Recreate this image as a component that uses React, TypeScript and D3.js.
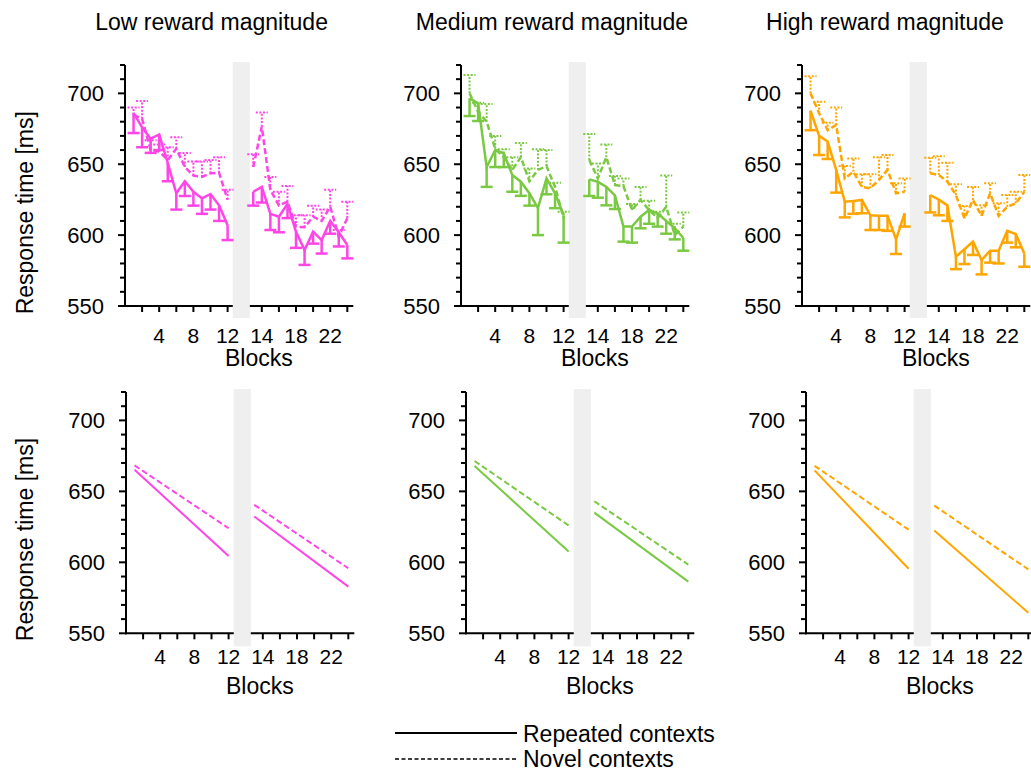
import React from "react";
import * as d3 from "d3";

const FONT = "'Liberation Sans', Arial, Helvetica, sans-serif";

// blocks 1..24, a break sits between 12 and 13
const blocks = [1, 2, 3, 4, 5, 6, 7, 8, 9, 10, 11, 12, 13, 14, 15, 16, 17, 18, 19, 20, 21, 22, 23, 24];
const tickBlocks = [2, 4, 6, 8, 10, 12, 14, 16, 18, 20, 22, 24];
const labelBlocks = [4, 8, 12, 14, 18, 22];
const yTicks = [550, 560, 570, 580, 590, 600, 610, 620, 630, 640, 650, 660, 670, 680, 690, 700, 710, 720];
const yLabels = [550, 600, 650, 700];
const titles = ["Low reward magnitude", "Medium reward magnitude", "High reward magnitude"];
const colors = ["#ff45e6", "#7ac943", "#ffa500"];

// top row: block means and standard errors (ms)
const lowRep = [686, 676, 668, 671, 651, 629.5, 638, 630.6, 626, 629, 621, 607, 630.6, 634, 615, 613, 622, 602.4, 589.5, 602.4, 596.5, 610, 602, 593];
const lowRepSE = [14, 14, 10, 11, 13, 11.5, 10.4, 9.8, 11, 11, 11, 10.5, 9.8, 11, 11.4, 11, 10, 11.4, 10.5, 8.4, 9.5, 9, 10, 9.4];
const lowNov = [685, 682, 660, 659, 653, 661, 648, 642, 641, 643.6, 644, 625, 648, 676.5, 632, 621, 623.6, 606, 605.5, 613, 610, 620, 599, 612];
const lowNovSE = [5, 12.6, 7, 5, 9, 8, 10, 10, 11, 9.4, 11, 7, 9, 10, 9, 9.6, 11, 8, 8.5, 7.8, 8, 12, 4.6, 11.6];

const medRep = [696.5, 693, 648, 660, 657.7, 642.4, 637.7, 629.5, 619, 640, 629.5, 614, 639.3, 637.7, 634, 628, 606, 606, 613, 617.7, 615.4, 610, 605, 598];
const medRepSE = [12.5, 12.5, 14, 12, 9.7, 11.8, 10, 8.7, 19, 11.2, 10.5, 19.3, 11.7, 11.3, 13, 9.6, 10.6, 11.3, 8.2, 9.7, 9.4, 9, 8, 9];
const medNov = [700, 687, 680, 661, 655, 646, 655, 638, 646, 648.7, 634, 612, 653, 640, 655, 635.3, 634.6, 617.7, 624.8, 617.7, 612, 620, 600, 606];
const medNovSE = [13, 6.4, 12.5, 9, 5.5, 9, 10, 9, 14.5, 11.3, 3, 4.5, 18.3, 10.6, 9, 6.4, 5.4, 4.3, 9.2, 6.6, 4.5, 22, 8, 10];

const highRep = [687.8, 670, 666, 646, 623.6, 624, 624.8, 614, 613.7, 613.7, 597, 615.4, 628.3, 625, 621, 584.8, 590, 595.4, 582.4, 589, 589, 603, 600.8, 587];
const highRepSE = [13.8, 13.5, 12.3, 16, 11.1, 9, 9.4, 10.4, 10.1, 10.7, 10.3, 9.4, 12.3, 11, 11, 8.8, 10.4, 9.4, 10.1, 8.4, 9, 8.3, 9.4, 9.3];
const highNov = [700, 686, 674, 677.7, 640, 644.7, 634, 633, 639, 646, 629.5, 630.6, 643.6, 642.4, 637.7, 628.3, 611.8, 624.8, 613.5, 629.5, 613.5, 620, 622.4, 630.6];
const highNovSE = [12, 8, 5.3, 12.3, 8.7, 9.3, 9, 10, 16, 10.5, 7, 9.4, 11, 13.3, 13.3, 7.5, 8.7, 9.2, 7.5, 7, 8.9, 8.3, 8.2, 11.8];

// bottom row: fitted lines, values at blocks 1, 12, 13, 24
const fitBlocks = [1, 12, 13, 24];
const lowRepFit = [665.2, 604.5, 632.3, 582.9];
const lowNovFit = [668.3, 624, 640.5, 595.8];
const medRepFit = [667.9, 607.6, 635, 586.4];
const medNovFit = [671.4, 626, 643, 598.4];
const highRepFit = [664.8, 595.5, 622.4, 564.5];
const highNovFit = [668, 623, 640, 595];

const topData = [
  { rep: lowRep, repSE: lowRepSE, nov: lowNov, novSE: lowNovSE },
  { rep: medRep, repSE: medRepSE, nov: medNov, novSE: medNovSE },
  { rep: highRep, repSE: highRepSE, nov: highNov, novSE: highNovSE },
];
const bottomData = [
  { rep: lowRepFit, nov: lowNovFit },
  { rep: medRepFit, nov: medNovFit },
  { rep: highRepFit, nov: highNovFit },
];

// block -> slot, leaving room for the break
const slot = (b: number) => (b <= 12 ? b : b + 2);

const Axes = ({ x, y, y0, y1, tickDy }: any) => {
  const [xa, xb] = x.range();
  return (
    <g>
      <line x1={xa} x2={xa} y1={y1} y2={y0 + 1} stroke="#000" strokeWidth={2} />
      <line x1={xa - 1} x2={xb} y1={y0} y2={y0} stroke="#000" strokeWidth={2} />
      {yTicks.map((t) => (
        <line key={t} x1={xa} x2={xa - (yLabels.includes(t) ? 7 : 5)} y1={y(t)} y2={y(t)} stroke="#000" strokeWidth={2} />
      ))}
      {yLabels.map((t) => (
        <text key={t} x={xa - 21} y={y(t)} dy="0.36em" textAnchor="end" fontSize={22} fontFamily={FONT}>
          {t}
        </text>
      ))}
      {tickBlocks.map((b) => (
        <line key={b} x1={x(slot(b))} x2={x(slot(b))} y1={y0} y2={y0 + 6} stroke="#000" strokeWidth={2} />
      ))}
      {labelBlocks.map((b) => (
        <text key={b} x={x(slot(b))} y={y0 + tickDy} dy="0.36em" textAnchor="middle" fontSize={21} fontFamily={FONT}>
          {b}
        </text>
      ))}
      <text x={x(15.65)} y={y0 + 52} dy="0.36em" textAnchor="middle" fontSize={23} fontFamily={FONT}>
        Blocks
      </text>
    </g>
  );
};

// two path strings, one per side of the break
const splitPaths = (x: any, y: any, bl: number[], vals: number[], cut: number) => {
  const mk = (bs: number[]) =>
    d3
      .line<number>()
      .x((_, i) => x(slot(bs[i])))
      .y((v) => y(v));
  return [
    mk(bl.slice(0, cut))(vals.slice(0, cut)) as string,
    mk(bl.slice(cut))(vals.slice(cut)) as string,
  ];
};

const TopPanel = ({ x0, color, d }: any) => {
  const y0 = 306;
  const y1 = 65;
  const x = d3.scaleLinear().domain([0, 26.7]).range([x0, x0 + 228.3]);
  const y = d3.scaleLinear().domain([550, 720]).range([y0, y1]);
  const repPaths = splitPaths(x, y, blocks, d.rep, 12);
  const novPaths = splitPaths(x, y, blocks, d.nov, 12);
  const cap = 6;
  return (
    <g>
      <Axes x={x} y={y} y0={y0} y1={y1} tickDy={29} />
      <rect x={x(12.6)} y={y1 - 3} width={x(14.6) - x(12.6)} height={y0 + 12 - (y1 - 3)} fill="#efefef" />
      {/* novel: dotted whiskers upwards */}
      {blocks.map((b, i) => {
        const cx = x(slot(b));
        const top = y(d.nov[i] + d.novSE[i]);
        return (
          <g key={"n" + b} stroke={color} strokeWidth={2} strokeDasharray="2,1.6" fill="none">
            <line x1={cx} x2={cx} y1={y(d.nov[i])} y2={top} />
            <line x1={cx - cap} x2={cx + cap} y1={top} y2={top} />
          </g>
        );
      })}
      {novPaths.map((p, k) => (
        <path key={"np" + k} d={p} fill="none" stroke={color} strokeWidth={2.5} strokeDasharray="6,3" />
      ))}
      {/* repeated: solid whiskers downwards */}
      {blocks.map((b, i) => {
        const cx = x(slot(b));
        const bot = y(d.rep[i] - d.repSE[i]);
        return (
          <g key={"r" + b} stroke={color} strokeWidth={2.5} fill="none">
            <line x1={cx} x2={cx} y1={y(d.rep[i])} y2={bot} />
            <line x1={cx - cap} x2={cx + cap} y1={bot} y2={bot} />
          </g>
        );
      })}
      {repPaths.map((p, k) => (
        <path key={"rp" + k} d={p} fill="none" stroke={color} strokeWidth={2.5} />
      ))}
    </g>
  );
};

const BottomPanel = ({ x0, color, d }: any) => {
  const y0 = 633.3;
  const y1 = 392;
  const x = d3.scaleLinear().domain([0, 26.7]).range([x0, x0 + 228.3]);
  const y = d3.scaleLinear().domain([550, 720]).range([y0, y1]);
  const rep = splitPaths(x, y, fitBlocks, d.rep, 2);
  const nov = splitPaths(x, y, fitBlocks, d.nov, 2);
  return (
    <g>
      <Axes x={x} y={y} y0={y0} y1={y1} tickDy={23.5} />
      <rect x={x(12.6)} y={y1 - 3} width={x(14.6) - x(12.6)} height={y0 + 13 - (y1 - 3)} fill="#efefef" />
      {nov.map((p, k) => (
        <path key={"n" + k} d={p} fill="none" stroke={color} strokeWidth={2} strokeDasharray="6,3" />
      ))}
      {rep.map((p, k) => (
        <path key={"r" + k} d={p} fill="none" stroke={color} strokeWidth={2} />
      ))}
    </g>
  );
};

export default function App() {
  const topX = [125, 461, 802];
  const botX = [126, 466, 806];
  const titleX = [211.6, 552, 885];
  return (
    <svg width={1031} height={772} style={{ position: "absolute", left: 0, top: 0, background: "#fff" }}>
      <rect width={1031} height={772} fill="#fff" />
      {titles.map((t, i) => (
        <text key={t} x={titleX[i]} y={30} textAnchor="middle" fontSize={23} fontFamily={FONT}>
          {t}
        </text>
      ))}
      {topData.map((d, i) => (
        <TopPanel key={"t" + i} x0={topX[i]} color={colors[i]} d={d} />
      ))}
      {bottomData.map((d, i) => (
        <BottomPanel key={"b" + i} x0={botX[i]} color={colors[i]} d={d} />
      ))}
      {[212.7, 539.5].map((cy) => (
        <text key={cy} transform={`translate(25,${cy}) rotate(-90)`} dy="0.36em" textAnchor="middle" fontSize={23} fontFamily={FONT}>
          Response time [ms]
        </text>
      ))}
      <line x1={395} x2={517} y1={733} y2={733} stroke="#000" strokeWidth={2} />
      <text x={523} y={734} dy="0.36em" fontSize={23} fontFamily={FONT}>
        Repeated contexts
      </text>
      <line x1={395} x2={517} y1={759} y2={759} stroke="#000" strokeWidth={1.5} strokeDasharray="4,2.5" />
      <text x={523} y={759} dy="0.36em" fontSize={23} fontFamily={FONT}>
        Novel contexts
      </text>
    </svg>
  );
}
